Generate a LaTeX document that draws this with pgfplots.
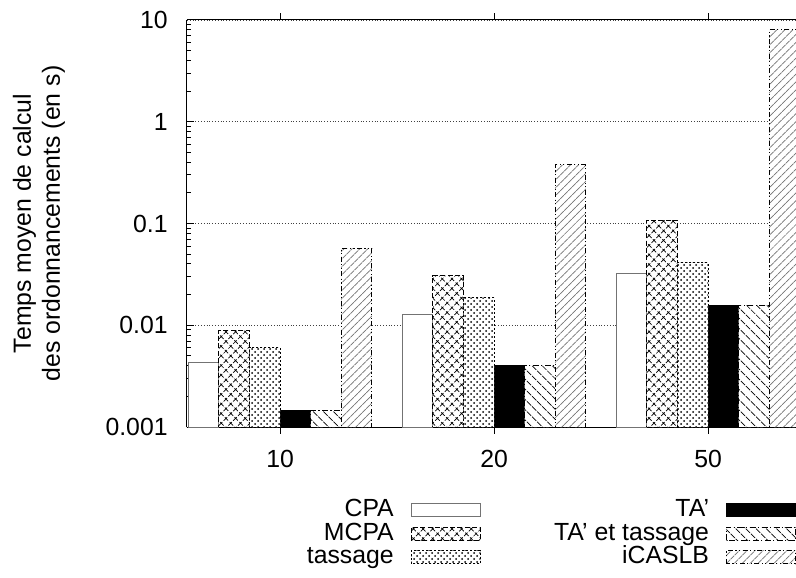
\documentclass[border=0pt]{standalone}
\usepackage{pgfplots}
\pgfplotsset{compat=1.18}
\usetikzlibrary{patterns,patterns.meta}
\usepackage{fontspec}
\setmainfont{Liberation Sans}
\begin{document}
\fontsize{12.4}{14.5}\selectfont
\begin{tikzpicture}
\begin{axis}[
  at={(0,0)}, anchor=south west,
  scale only axis, width=304.5pt, height=203.5pt,
  xmin=-0.435, xmax=2.411,
  ymode=log, ymin=0.001, ymax=10, log origin y=infty,
  axis x line*=box, axis y line*=left,
  axis line style={line width=0.5pt, -},
  tick align=inside,
  major tick length=3.5pt, minor tick length=2pt,
  tick style={black, line width=0.5pt},
  xtick={0,1,2}, xticklabels={10,20,50},
  ytick={0.001,0.01,0.1,1,10}, yticklabels={0.001,0.01,0.1,1,10},
  yticklabel style={inner xsep=0pt, xshift=-9.5pt},
  xticklabel style={inner ysep=0pt, yshift=-8pt},
  ymajorgrids=true,
  major grid style={densely dotted, black!75, line width=0.45pt},
  ylabel={Temps moyen de calcul\\des ordonnancements (en s)},
  ylabel style={at={(axis description cs:-0.243,0.5)}, anchor=center, align=center},
  ybar, bar width=0.142857,
  legend image code/.code={\draw[#1] (0pt,-3.25pt) rectangle (34.5pt,3.25pt);},
  legend columns=2, legend plot pos=right, legend cell align=right,
  legend style={at={(axis description cs:1,-0.1771)}, anchor=north east,
    draw=none, fill=none, inner sep=0pt, outer sep=0pt,
    nodes={inner xsep=0pt, inner ysep=0pt, text height=8.9pt, text depth=2.5pt},
    row sep=0.27pt,
    /tikz/every odd column/.append style={column sep=8.5pt},
    /tikz/every even column/.append style={column sep=36.7pt}},
]
\addplot[bar shift=-0.357143, draw=black!55, fill=white, line width=0.5pt]
  coordinates {(0,0.00428) (1,0.0128) (2,0.0319)};
\addlegendentry{CPA}
\addplot[bar shift=0.071429, draw=black, fill=black, line width=0.5pt]
  coordinates {(0,0.00144) (1,0.00398) (2,0.0157)};
\addlegendentry{TA'}
\addplot[bar shift=-0.214286, draw=black, line width=0.5pt, dash pattern=on 2.5pt off 1.2pt,
  preaction={fill=white}, pattern={Hatch[angle=45,distance=3.4pt,line width=0.35pt]}]
  coordinates {(0,0.00885) (1,0.0305) (2,0.108)};
\addlegendentry{MCPA}
\addplot[bar shift=0.214286, draw=black, line width=0.5pt, dash pattern=on 3pt off 1.2pt on 0.6pt off 1.2pt,
  preaction={fill=white}, pattern={Lines[angle=-45,distance=3.6pt,line width=0.35pt]}]
  coordinates {(0,0.00144) (1,0.00398) (2,0.0157)};
\addlegendentry{TA' et tassage}
\addplot[bar shift=-0.071429, draw=black, line width=0.5pt, dash pattern=on 1pt off 1pt,
  preaction={fill=white}, pattern=crosshatch dots]
  coordinates {(0,0.00607) (1,0.0187) (2,0.0415)};
\addlegendentry{tassage}
\addplot[bar shift=0.357143, draw=black, line width=0.5pt, dash pattern=on 2.5pt off 1.2pt on 0.6pt off 1.2pt on 0.6pt off 1.2pt,
  preaction={fill=white}, pattern={Lines[angle=45,distance=2.8pt,line width=0.35pt]}, pattern color=black!55]
  coordinates {(0,0.057) (1,0.376) (2,7.98)};
\addlegendentry{iCASLB}
\end{axis}
\pgfresetboundingbox
\path[use as bounding box] (-93.5pt,-75pt) rectangle (304.5pt,213.5pt);
\end{tikzpicture}
\end{document}
